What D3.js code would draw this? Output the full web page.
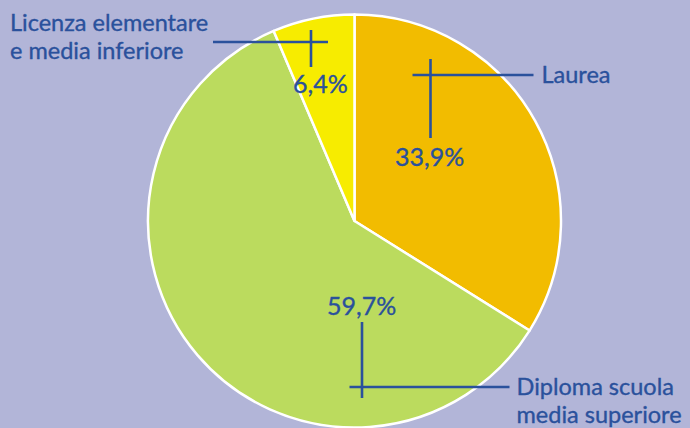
<!DOCTYPE html>
<html>
<head>
<meta charset="utf-8">
<script src="https://cdn.jsdelivr.net/npm/d3@7"></script>
<style>
  html, body { margin: 0; padding: 0; background: #b2b5d8; }
  svg { display: block; }
  text { font-family: Lato, "Open Sans", sans-serif; fill: #2a519c; stroke: #2a519c; stroke-width: 0.35px; }
</style>
</head>
<body>
<div id="chart"></div>
<script>
// ---- data ----
const categories = ["Laurea", "Diploma scuola media superiore", "Licenza elementare e media inferiore"];
const values = [33.9, 59.7, 6.4];
const valueLabels = ["33,9%", "59,7%", "6,4%"];
const nameLines = [["Laurea"], ["Diploma scuola", "media superiore"], ["Licenza elementare", "e media inferiore"]];
const colors = ["#f2bc00", "#bbdb5e", "#f7ec00"];

// ---- layout ----
const W = 690, H = 428;
const cx = 354.5, cy = 221, R = 206.5;
const ink = "#2a519c";

// annotation layout, offsets relative to pie centre
const annot = [
  { // Laurea
    hx1: 58, hx2: 179, hy: -146, vx: 76, vy1: -162, vy2: -83,
    pct: { x: 40.5, y: -55 },
    name: { x: 187, y: -138 }
  },
  { // Diploma
    hx1: -5, hx2: 155, hy: 166, vx: 7.5, vy1: 101, vy2: 177,
    pct: { x: -27.5, y: 94 },
    name: { x: 162, y: 174 }
  },
  { // Licenza
    hx1: -141.5, hx2: -26.5, hy: -179, vx: -43.5, vy1: -191, vy2: -154,
    pct: { x: -61.5, y: -128 },
    name: { x: -344.5, y: -190 }
  }
];

const svg = d3.select("#chart").append("svg")
  .attr("width", W).attr("height", H);

svg.append("rect").attr("width", W).attr("height", H).attr("fill", "#b2b5d8");

const g = svg.append("g").attr("transform", `translate(${cx},${cy})`);

const pie = d3.pie().sort(null).value(d => d)(values);
const arc = d3.arc().innerRadius(0).outerRadius(R);

g.selectAll("path.slice").data(pie).enter().append("path")
  .attr("class", "slice")
  .attr("d", arc)
  .attr("fill", (d, i) => colors[i])
  .attr("stroke", "#ffffff")
  .attr("stroke-width", 2.5)
  .attr("stroke-linejoin", "round");

const ann = g.selectAll("g.ann").data(pie).enter().append("g").attr("class", "ann");

ann.append("line")
  .attr("x1", (d, i) => annot[i].hx1).attr("x2", (d, i) => annot[i].hx2)
  .attr("y1", (d, i) => annot[i].hy).attr("y2", (d, i) => annot[i].hy)
  .attr("stroke", ink).attr("stroke-width", 2.6);
ann.append("line")
  .attr("x1", (d, i) => annot[i].vx).attr("x2", (d, i) => annot[i].vx)
  .attr("y1", (d, i) => annot[i].vy1).attr("y2", (d, i) => annot[i].vy2)
  .attr("stroke", ink).attr("stroke-width", 2.6);

ann.append("text")
  .attr("x", (d, i) => annot[i].pct.x)
  .attr("y", (d, i) => annot[i].pct.y)
  .style("font-size", "25px")
  .text((d, i) => valueLabels[i]);

ann.each(function(d, i) {
  const t = d3.select(this).append("text")
    .attr("x", annot[i].name.x)
    .attr("y", annot[i].name.y)
    .style("font-size", "23.5px");
  nameLines[i].forEach((ln, k) => {
    t.append("tspan").attr("x", annot[i].name.x).attr("dy", k === 0 ? 0 : 28).text(ln);
  });
});
</script>
</body>
</html>
